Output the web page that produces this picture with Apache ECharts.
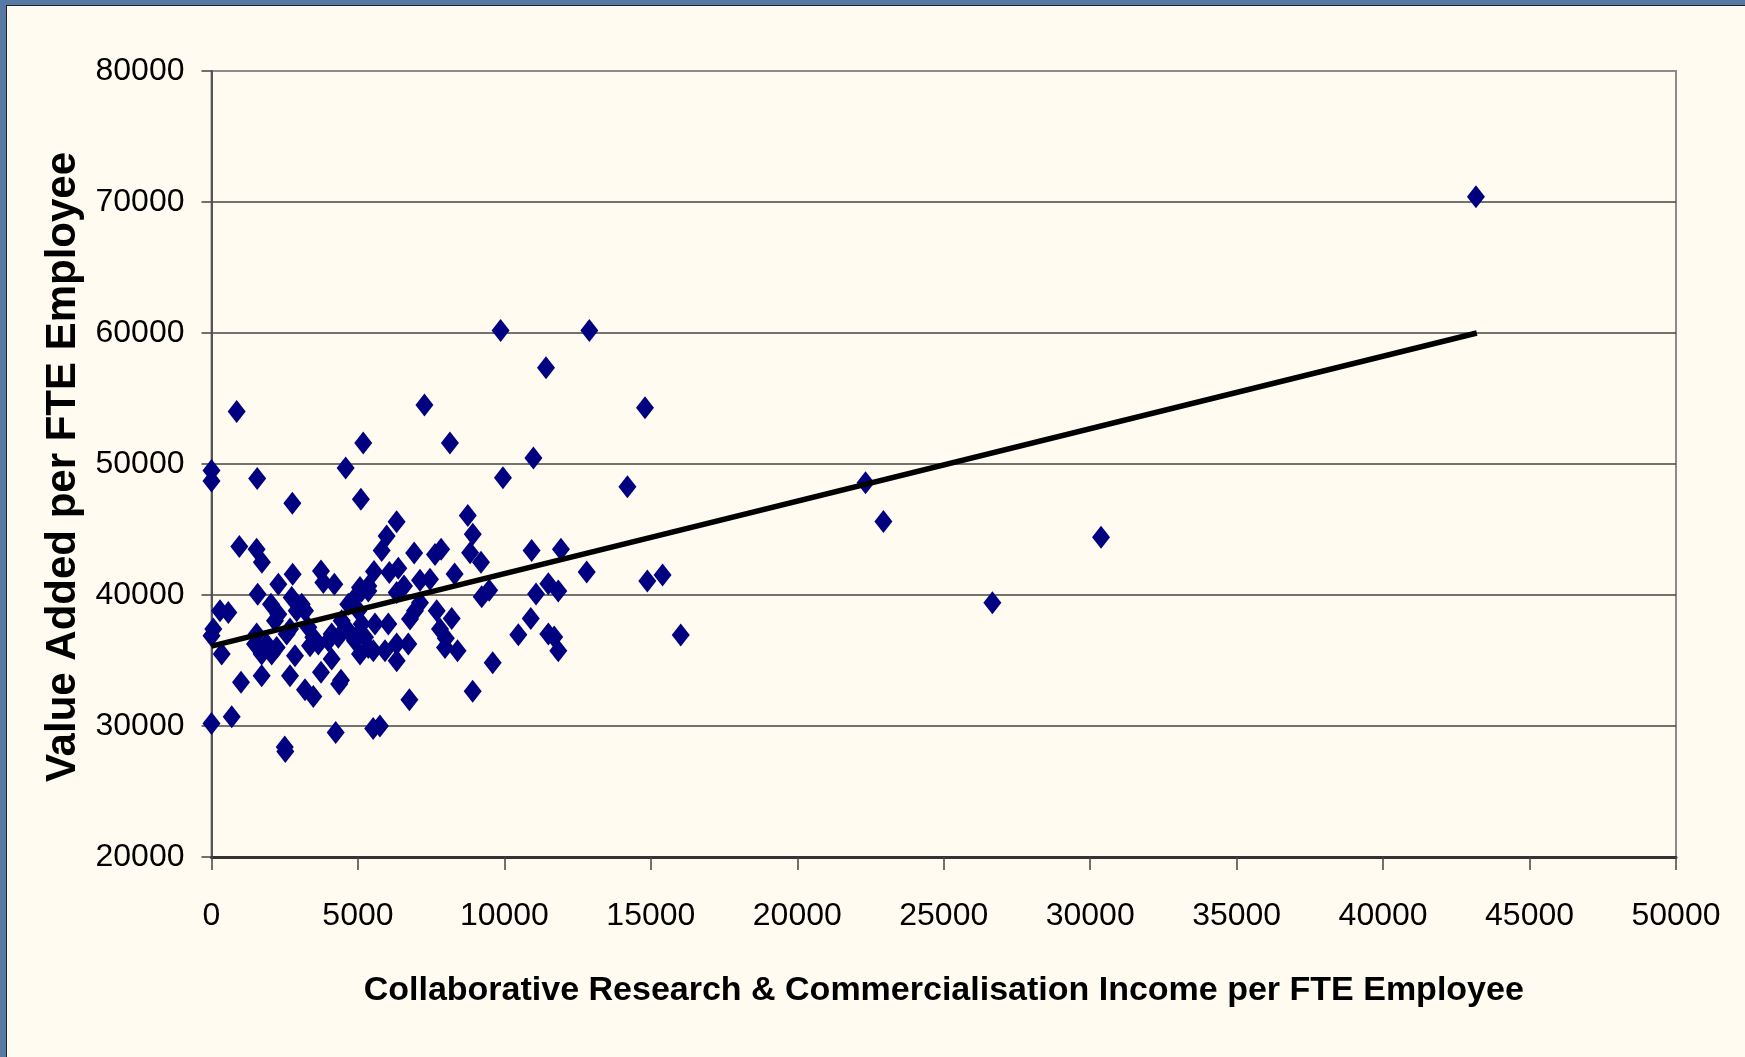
<!DOCTYPE html>
<html>
<head>
<meta charset="utf-8">
<script src="https://cdn.jsdelivr.net/npm/echarts@6/dist/echarts.min.js"></script>
<style>
html,body{margin:0;padding:0;background:#fffbf0;}
#chart{width:1745px;height:1057px;}
</style>
</head>
<body>
<div id="chart"></div>
<script>
// X: Collaborative Research & Commercialisation Income per FTE Employee
// Y: Value Added per FTE Employee
const incomeX = [
  860, 7270, 5180, 0, 0, 1560, 4580, 2760, 5100, 6320,
  950, 1540, 1720, 5980, 5810, 6920, 7840, 7630, 8830, 9200,
  10930, 11930, 9870, 12900, 11420, 14800, 8140, 10990, 9950, 14200,
  8750, 8920, 22330, 22940, 26660, 30370, 43170, 15400, 14880, 16020,
  12810, 11500, 11840, 11080, 9225, 9480, 10900, 10476, 11500, 11700,
  11840, 9600, 8917, 8300, 7118, 7460, 7118, 7689, 8201, 7801,
  8000, 7972, 8400, 6757, 5548, 6071, 6378, 6572, 6322, 5070,
  5354, 6947, 6777, 5127, 5582, 6037, 5013, 5070, 5525, 5924,
  6322, 6719, 6323, 2771, 2282, 3738, 3818, 4193, 1576, 290,
  574, 2031, 2282, 2168, 2738, 3080, 2909, 3192, 61, 0,
  348, 1543, 1485, 1884, 1713, 2054, 2225, 2680, 2567, 2851,
  3306, 3476, 3363, 3647, 3988, 4103, 4329, 4103, 3738, 4421,
  4360, 1007, 1713, 2680, 3192, 3476, 4671, 4899, 5127, 5354,
  5013, 4445, 4671, 4899, 5354, 5241, 0, 690, 2500, 2520,
  4240, 5520, 5750
];
const valueAddedY = [
  54000, 54500, 51600, 49500, 48700, 48900, 49700, 47000, 47300, 45600,
  43700, 43500, 42500, 44500, 43400, 43200, 43500, 43100, 43230, 42500,
  43400, 43490, 60200, 60200, 57350, 54300, 51600, 50450, 48950, 48260,
  46070, 44630, 48560, 45620, 39400, 44400, 70400, 41530, 41070, 36950,
  41760, 40850, 40310, 40080, 39870, 40370, 38200, 36960, 37020, 36800,
  35750, 34830, 32660, 41600, 41130, 41200, 39400, 38790, 38200, 37400,
  36700, 36000, 35750, 32000, 41790, 41710, 42040, 40690, 40190, 40570,
  40310, 38790, 38160, 37780, 37780, 37780, 37020, 35490, 35750, 35750,
  36260, 36260, 34980, 41580, 40820, 41830, 40950, 40820, 40060, 38790,
  38670, 39300, 38540, 38030, 39810, 39300, 38790, 38790, 37400, 36890,
  35490, 37020, 36260, 36260, 35490, 35490, 36000, 37400, 37020, 35370,
  37530, 36770, 36130, 36260, 36510, 37020, 36770, 35110, 34100, 33500,
  33200, 33340, 33840, 33840, 32760, 32250, 39300, 39810, 40310, 40690,
  38790, 38030, 37270, 36510, 36000, 36770, 30200, 30700, 28400, 28050,
  29500, 29800, 30000
];
// Linear trendline end points
const trendX = [0, 43200];
const trendY = [36100, 60000];

const xTicks = [0, 50000, 5000];   // min, max, interval
const yTicks = [20000, 80000, 10000];

const points = incomeX.map((x, i) => [x, valueAddedY[i]]);
const trend = trendX.map((x, i) => [x, trendY[i]]);

const sans = '"Liberation Sans", Arial, sans-serif';
const plain = v => String(v);
const chart = echarts.init(document.getElementById('chart'));
chart.setOption({
  animation: false,
  backgroundColor: '#fffbf0',
  graphic: [
    {type: 'rect', left: 0, top: 0, shape: {width: 6, height: 1057}, style: {fill: '#5679a6'}, silent: true},
    {type: 'rect', left: 0, top: 0, shape: {width: 1745, height: 5}, style: {fill: '#5679a6'}, silent: true},
    {type: 'rect', left: 6, top: 5, shape: {width: 1, height: 1052}, style: {fill: '#222'}, silent: true},
    {type: 'rect', left: 6, top: 5, shape: {width: 1739, height: 1}, style: {fill: '#222'}, silent: true}
  ],
  grid: {
    left: 211.5, right: 69, top: 71, bottom: 200,
    show: true, borderColor: '#8c8c8c', borderWidth: 2, backgroundColor: 'transparent'
  },
  xAxis: {
    type: 'value', min: xTicks[0], max: xTicks[1], interval: xTicks[2],
    axisLine: {show: true, onZero: false, lineStyle: {color: '#333', width: 3}},
    axisTick: {show: true, length: 13, lineStyle: {color: '#444', width: 1.5}},
    splitLine: {show: false},
    axisLabel: {fontSize: 32, fontFamily: sans, color: '#000', margin: 43, formatter: plain},
    name: 'Collaborative Research & Commercialisation Income per FTE Employee',
    nameLocation: 'middle', nameGap: 117,
    nameTextStyle: {fontSize: 34, fontWeight: 'bold', fontFamily: sans, color: '#000'}
  },
  yAxis: {
    type: 'value', min: yTicks[0], max: yTicks[1], interval: yTicks[2],
    axisLine: {show: true, onZero: false, lineStyle: {color: '#555', width: 2}},
    axisTick: {show: true, length: 10, lineStyle: {color: '#444', width: 1.5}},
    splitLine: {show: true, lineStyle: {color: ['#444','#444','#444','#444','#444','#444','#8c8c8c'], width: 1.5}},
    axisLabel: {fontSize: 32, fontFamily: sans, color: '#000', margin: 27, formatter: plain},
    name: 'Value Added per FTE Employee',
    nameLocation: 'middle', nameGap: 84,
    nameTextStyle: {fontSize: 42, fontWeight: 'bold', fontFamily: sans, color: '#000', padding: [0, 6, 0, 0]}
  },
  series: [
    {
      type: 'scatter', data: points, symbol: 'diamond', symbolSize: [18, 23],
      itemStyle: {color: '#000080', opacity: 1}, z: 2
    },
    {
      type: 'line', data: trend, showSymbol: false, symbol: 'none',
      lineStyle: {color: '#000', width: 5.5}, z: 3
    }
  ]
});
</script>
</body>
</html>
